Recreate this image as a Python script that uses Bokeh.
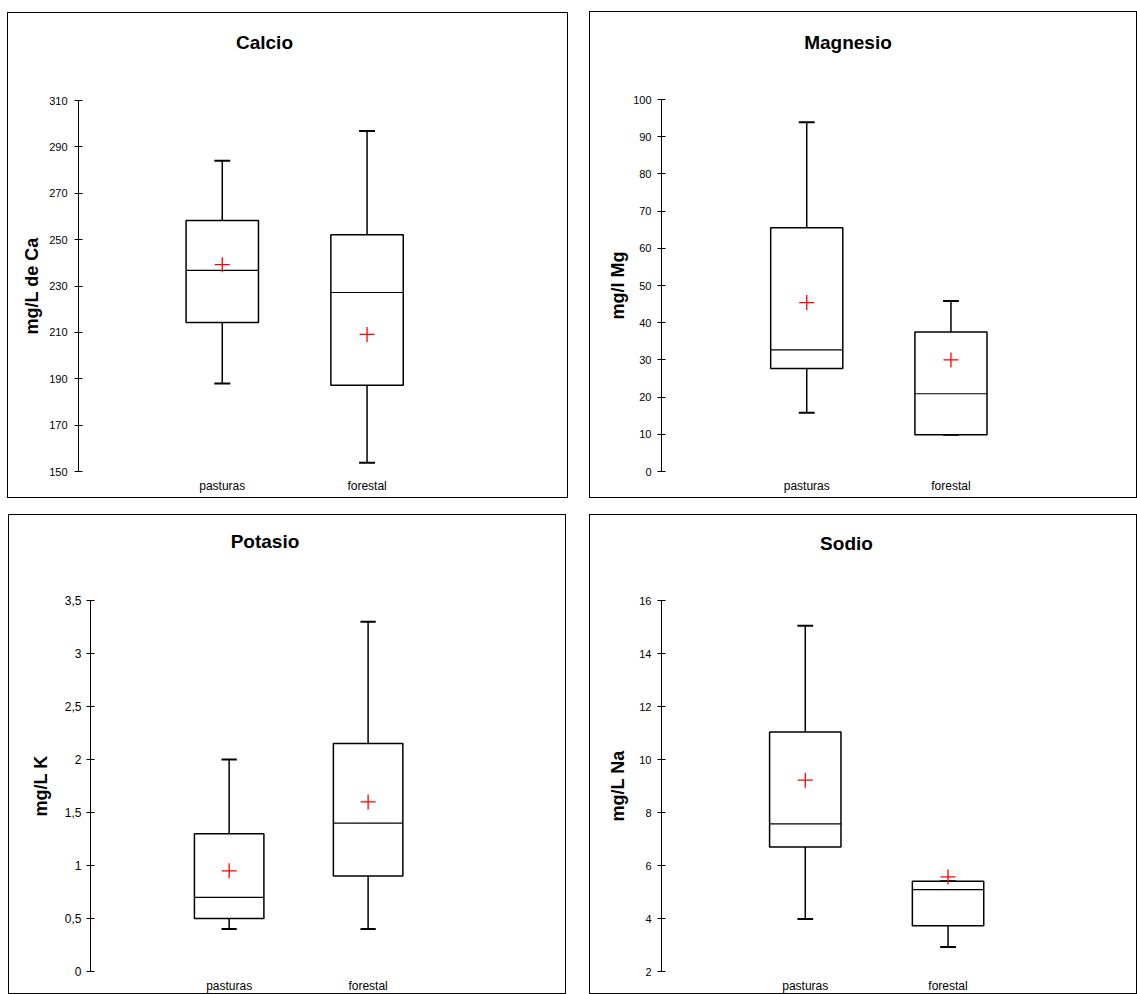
import numpy as np
from bokeh.plotting import figure
from bokeh.models import ColumnDataSource, Range1d, FixedTicker, Title
from bokeh.layouts import row, column
from bokeh.embed import file_html
from bokeh.resources import INLINE

categories = ["pasturas", "forestal"]

# Calcio (mg/L de Ca)
ca_min = [188.0, 153.8]
ca_q1 = [214.3, 187.2]
ca_med = [236.7, 227.2]
ca_q3 = [258.3, 252.1]
ca_max = [284.0, 296.9]
ca_mean = [239.2, 209.1]
ca_ticks = [150, 170, 190, 210, 230, 250, 270, 290, 310]

# Magnesio (mg/l Mg)
mg_min = [15.8, 9.9]
mg_q1 = [27.7, 9.9]
mg_med = [32.7, 20.9]
mg_q3 = [65.5, 37.5]
mg_max = [93.9, 45.8]
mg_mean = [45.4, 30.0]
mg_ticks = [0, 10, 20, 30, 40, 50, 60, 70, 80, 90, 100]

# Potasio (mg/L K)
k_min = [0.4, 0.4]
k_q1 = [0.5, 0.9]
k_med = [0.7, 1.4]
k_q3 = [1.3, 2.15]
k_max = [2.0, 3.3]
k_mean = [0.95, 1.6]
k_ticks = [0, 0.5, 1, 1.5, 2, 2.5, 3, 3.5]
k_tick_labels = ["0", "0,5", "1", "1,5", "2", "2,5", "3", "3,5"]

# Sodio (mg/L Na)
na_min = [3.98, 2.92]
na_q1 = [6.7, 3.73]
na_med = [7.57, 5.09]
na_q3 = [11.04, 5.41]
na_max = [15.05, 5.41]
na_mean = [9.22, 5.57]
na_ticks = [2, 4, 6, 8, 10, 12, 14, 16]

FONT = "Liberation Sans"


def make_panel(title, ylabel, vmin, q1, med, q3, vmax, mean, ticks, tick_labels,
               outer_w, outer_h, margin, geo, tick_font, label_standoff, tick_standoff):
    # geo: layout geometry in page pixels
    ox, oy, axis_x, c0, c1, tx, ty, yt, yb = geo
    lo, hi = ticks[0], ticks[-1]
    cw_, ch_ = outer_w - 2, outer_h - 2
    mb_left = int(round(axis_x - ox))
    frame_w = 2 * (tx - axis_x)
    kx = c1 - c0
    x_start = -(c0 - axis_x) / kx
    x_end = x_start + frame_w / kx
    mb_right = int(round(cw_ - mb_left - frame_w))
    mb_top = int(round(yt - oy))
    mb_bottom = int(round(ch_ - (yb - oy)))

    x = np.arange(len(categories), dtype=float)
    bw = 0.5
    cw = 0.11
    src = ColumnDataSource(dict(
        x=x, xl=x - bw / 2, xr=x + bw / 2, cl=x - cw / 2, cr=x + cw / 2,
        vmin=vmin, q1=q1, med=med, q3=q3, vmax=vmax, mean=mean))
    p = figure(width=outer_w, height=outer_h, x_range=Range1d(x_start, x_end),
               y_range=Range1d(lo, hi),
               output_backend="svg", toolbar_location=None, margin=margin,
               min_border_left=mb_left, min_border_top=mb_top,
               min_border_right=mb_right, min_border_bottom=mb_bottom,
               styles={"border": "1px solid black"})
    p.outline_line_color = None
    p.xgrid.visible = False
    p.ygrid.visible = False
    p.background_fill_color = "white"
    p.border_fill_color = "white"

    # blank spacer title next to the frame, then the real title above it
    title_standoff = 10
    gap = yt - ty
    p.add_layout(Title(text=" ", text_font_size="1px",
                       standoff=gap - title_standoff / 2 - 9.5 - 3), "above")
    p.add_layout(Title(text=title, align="center", vertical_align="bottom",
                       text_font=FONT, text_font_size="19px", text_font_style="bold",
                       text_color="black", standoff=title_standoff), "above")

    # whiskers
    p.segment(x0="x", y0="vmin", x1="x", y1="q1", source=src, line_color="black", line_width=1.5)
    p.segment(x0="x", y0="q3", x1="x", y1="vmax", source=src, line_color="black", line_width=1.5)
    p.segment(x0="cl", y0="vmin", x1="cr", y1="vmin", source=src, line_color="black", line_width=2)
    p.segment(x0="cl", y0="vmax", x1="cr", y1="vmax", source=src, line_color="black", line_width=2)
    # boxes
    p.quad(left="xl", right="xr", bottom="q1", top="q3", source=src,
           fill_color="white", line_color="black", line_width=1.5)
    p.segment(x0="xl", y0="med", x1="xr", y1="med", source=src, line_color="black", line_width=1.2)
    # mean
    p.scatter(x="x", y="mean", source=src, marker="cross", size=15,
              line_color="red", line_width=1.3)

    # y axis
    ya = p.yaxis[0]
    ya.ticker = FixedTicker(ticks=ticks)
    ya.minor_tick_line_color = None
    ya.major_tick_in = 4
    ya.major_tick_out = 4
    ya.axis_line_color = "black"
    ya.major_tick_line_color = "black"
    ya.major_label_text_font = FONT
    ya.major_label_text_font_size = tick_font
    ya.major_label_text_color = "black"
    ya.major_label_standoff = tick_standoff
    ya.axis_label = ylabel
    ya.axis_label_text_font = FONT
    ya.axis_label_text_font_size = "18px"
    ya.axis_label_text_font_style = "bold"
    ya.axis_label_text_color = "black"
    ya.axis_label_standoff = label_standoff
    if tick_labels is not None:
        ya.major_label_overrides = {t: l for t, l in zip(ticks, tick_labels)}

    # x axis
    xa = p.xaxis[0]
    xa.ticker = FixedTicker(ticks=list(x))
    xa.major_label_overrides = {float(i): c for i, c in enumerate(categories)}
    xa.axis_line_color = None
    xa.major_tick_line_color = None
    xa.minor_tick_line_color = None
    xa.major_tick_out = 0
    xa.major_tick_in = 0
    xa.major_label_standoff = 7
    xa.major_label_text_font = FONT
    xa.major_label_text_font_size = "12px"
    xa.major_label_text_color = "black"
    return p


p1 = make_panel("Calcio", "mg/L de Ca", ca_min, ca_q1, ca_med, ca_q3, ca_max, ca_mean,
                ca_ticks, None, 561, 486, (12, 0, 0, 7),
                (8, 13, 78, 221, 365, 263, 42.7, 99.7, 468.7), "11px", 4, 7)
p2 = make_panel("Magnesio", "mg/l Mg", mg_min, mg_q1, mg_med, mg_q3, mg_max, mg_mean,
                mg_ticks, None, 548, 487, (11, 0, 0, 21),
                (590, 12, 660.7, 805, 948.3, 846, 43.3, 99.3, 469.3), "11px", 2, 6)
p3 = make_panel("Potasio", "mg/L K", k_min, k_q1, k_med, k_q3, k_max, k_mean,
                k_ticks, k_tick_labels, 558, 480, (16, 0, 0, 8),
                (9, 515, 90, 227.7, 365.7, 263.3, 540.7, 598.7, 970.3), "12px", 11, 5)
p4 = make_panel("Sodio", "mg/L Na", na_min, na_q1, na_med, na_q3, na_max, na_mean,
                na_ticks, None, 548, 480, (16, 0, 0, 23),
                (590, 515, 661.3, 804.3, 946.3, 845.3, 544.3, 600.3, 970), "11px", 8, 6)

layout = column(row(p1, p2), row(p3, p4))
open("out.html", "w").write(file_html(layout, INLINE))
